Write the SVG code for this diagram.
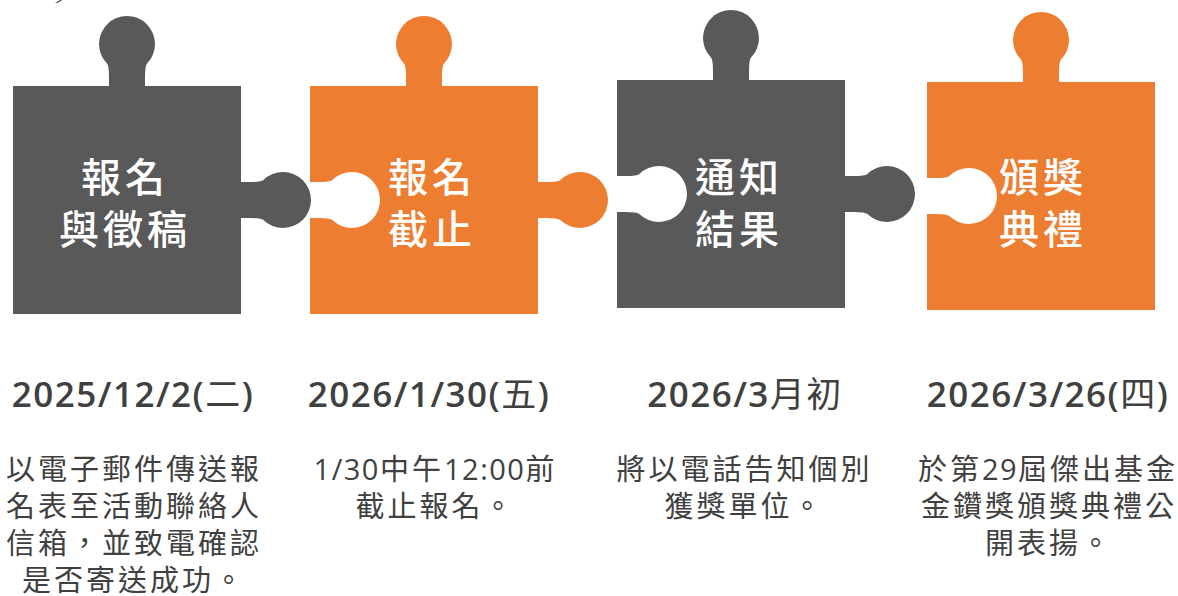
<svg xmlns="http://www.w3.org/2000/svg" xmlns:xlink="http://www.w3.org/1999/xlink" width="1178" height="596" viewBox="0 0 1178 596">
  <style>
    .grey { fill: #595959; }
    .orange { fill: #ED7D31; }
    .label { font-family: "Noto Sans CJK TC", "Noto Sans CJK SC", sans-serif; font-size: 40px; font-weight: 500; fill: #FFFFFF; letter-spacing: 4px; text-anchor: middle; }
    .date { font-family: "Open Sans", "Noto Sans CJK TC", sans-serif; font-size: 35px; font-weight: 600; fill: #404040; letter-spacing: 1.5px; text-anchor: middle; }
    .cjk { font-weight: 400; }
    .desc { font-family: "Open Sans", "Noto Sans CJK TC", sans-serif; font-size: 29px; font-weight: 400; fill: #404040; letter-spacing: 3px; text-anchor: middle; }
    .num { letter-spacing: 1.5px; }
  </style>
  <defs>
    <path id="piece-first" d="M0,0 L96,0 L96,-8 Q96,-20.4 94,-22.4 A28,28 0 1 1 134,-22.4 Q132,-20.4 132,-8 L132,0 L228,0 L228,96 L236,96 Q248.4,96 250.4,94 A28,28 0 1 1 250.4,134 Q248.4,132 236,132 L228,132 L228,228 L0,228 Z"/>
    <path id="piece-mid" d="M0,0 L96,0 L96,-8 Q96,-20.4 94,-22.4 A28,28 0 1 1 134,-22.4 Q132,-20.4 132,-8 L132,0 L228,0 L228,96 L236,96 Q248.4,96 250.4,94 A28,28 0 1 1 250.4,134 Q248.4,132 236,132 L228,132 L228,228 L0,228 L0,132 L8,132 Q20.4,132 22.4,134 A28,28 0 1 0 22.4,94 Q20.4,96 8,96 L0,96 Z"/>
    <path id="piece-last" d="M0,0 L96,0 L96,-8 Q96,-20.4 94,-22.4 A28,28 0 1 1 134,-22.4 Q132,-20.4 132,-8 L132,0 L228,0 L228,228 L0,228 L0,132 L8,132 Q20.4,132 22.4,134 A28,28 0 1 0 22.4,94 Q20.4,96 8,96 L0,96 Z"/>
  </defs>
  <rect x="0" y="0" width="1178" height="596" fill="#FFFFFF"/>
  <path class="grey" d="M55,3 L60,0 L62.5,0 L57.5,3 Z"/>
  <g id="connectors"/>

  <g id="step-1">
    <use xlink:href="#piece-first" href="#piece-first" class="grey" transform="translate(13,86)"/>
    <text class="label" x="125" y="192">報名</text>
    <text class="label" x="125" y="244">與徵稿</text>
    <text class="date" x="133" y="407">2025/12/2(<tspan class="cjk">二</tspan>)</text>
    <text class="desc" x="134" y="480">以電子郵件傳送報</text>
    <text class="desc" x="134" y="517">名表至活動聯絡人</text>
    <text class="desc" x="134" y="554">信箱，並致電確認</text>
    <text class="desc" x="134" y="591">是否寄送成功。</text>
  </g>

  <g id="step-2">
    <use xlink:href="#piece-mid" href="#piece-mid" class="orange" transform="translate(310,86)"/>
    <text class="label" x="432" y="192">報名</text>
    <text class="label" x="432" y="244">截止</text>
    <text class="date" x="429" y="407">2026/1/30(<tspan class="cjk">五</tspan>)</text>
    <text class="desc" x="435.5" y="480"><tspan class="num">1/30</tspan>中午<tspan class="num">12:00</tspan>前</text>
    <text class="desc" x="435.5" y="517">截止報名。</text>
  </g>

  <g id="step-3">
    <use xlink:href="#piece-mid" href="#piece-mid" class="grey" transform="translate(617,80)"/>
    <text class="label" x="739" y="192">通知</text>
    <text class="label" x="739" y="244">結果</text>
    <text class="date" x="745" y="407">2026/3<tspan class="cjk">月初</tspan></text>
    <text class="desc" x="744.5" y="480">將以電話告知個別</text>
    <text class="desc" x="744.5" y="517">獲獎單位。</text>
  </g>

  <g id="step-4">
    <use xlink:href="#piece-last" href="#piece-last" class="orange" transform="translate(927,82)"/>
    <text class="label" x="1043" y="192">頒獎</text>
    <text class="label" x="1043" y="244">典禮</text>
    <text class="date" x="1048" y="407">2026/3/26(<tspan class="cjk">四</tspan>)</text>
    <text class="desc" x="1048" y="480">於第<tspan class="num">29</tspan>屆傑出基金</text>
    <text class="desc" x="1049" y="517">金鑽獎頒獎典禮公</text>
    <text class="desc" x="1049" y="554">開表揚。</text>
  </g>
</svg>
